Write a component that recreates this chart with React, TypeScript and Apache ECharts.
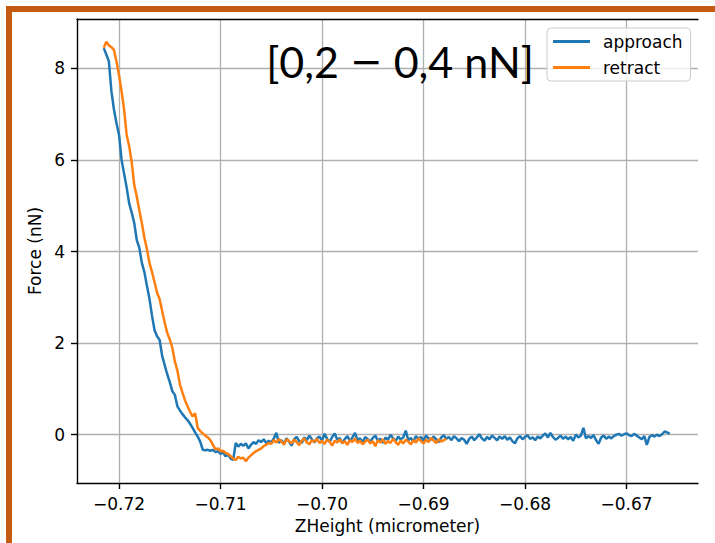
import React, { useEffect, useRef } from "react";
import * as echarts from "echarts";

// Z sampling grid (micrometer)
const Z_START = -0.7215;
const Z_STEP = 0.00025;

// Force (nN), one value per Z sample
const approachForce = [
  8.44, 8.3, 8.15, 7.5, 7.1, 6.8, 6.55, 6.0, 5.7, 5.4,
  5.05, 4.85, 4.62, 4.25, 4.08, 3.75, 3.55, 3.25, 2.97, 2.6,
  2.28, 2.15, 2.07, 1.72, 1.52, 1.32, 1.15, 0.95, 0.87, 0.62,
  0.53, 0.45, 0.38, 0.32, 0.24, 0.15, 0.05, -0.04, -0.15, -0.33,
  -0.34, -0.33, -0.35, -0.33, -0.38, -0.36, -0.42, -0.38, -0.47, -0.44,
  -0.52, -0.55, -0.18, -0.26, -0.2, -0.24, -0.19, -0.3, -0.22, -0.16,
  -0.2, -0.12, -0.16, -0.1, -0.18, -0.13, -0.17, -0.08, 0.04, -0.18,
  -0.12, -0.2, -0.08, -0.15, -0.24, -0.1, -0.05, -0.14, -0.18, -0.06,
  -0.12, -0.02, -0.1, -0.17, -0.08, -0.04, -0.13, 0.02, -0.09, -0.16,
  -0.05, 0.03, -0.11, -0.07, -0.19, -0.09, -0.03, -0.14, -0.06, 0.04,
  -0.12, -0.08, -0.17, -0.05, -0.1, -0.15, -0.07, -0.02, -0.13, -0.09,
  -0.18, -0.06, -0.11, 0.0, -0.08, -0.14, -0.04, -0.1, -0.06, 0.09,
  -0.12, -0.07, -0.15, -0.03, -0.09, -0.05, -0.13, -0.02, -0.08, -0.11,
  -0.04, -0.1, -0.16, -0.06, -0.01, -0.09, -0.05, -0.12, -0.03, -0.08,
  -0.14, -0.07, -0.11, -0.2, -0.09, -0.04, -0.12, -0.06, 0.01, -0.08,
  -0.13, -0.05, -0.1, -0.02, -0.07, -0.12, -0.04, -0.09, -0.03, -0.11,
  -0.06, -0.14, -0.19, -0.08, -0.03, -0.1, -0.05, -0.01, -0.09, -0.06,
  -0.12, -0.04, -0.08, -0.02, 0.03, -0.06, 0.04, -0.05, -0.11, -0.07,
  -0.02, -0.09, -0.04, -0.1, -0.05, -0.13, 0.0, -0.06, -0.02, 0.15,
  -0.08, -0.03, -0.07, -0.01, -0.12, -0.2, -0.06, -0.02, -0.09, -0.04,
  -0.08, -0.03, 0.0, 0.02, -0.02, 0.01, 0.03, -0.01, -0.03, 0.02,
  -0.02, -0.06, -0.1, -0.03, -0.22, -0.05, -0.01, -0.04, 0.0, -0.03,
  0.01, 0.07, 0.05, 0.02,
];

const retractForce = [
  8.45, 8.58, 8.5, 8.46, 8.4, 8.15, 7.85, 7.5, 7.1, 6.55,
  6.3, 5.95, 5.45, 5.2, 4.9, 4.62, 4.3, 4.05, 3.75, 3.55,
  3.33, 3.1, 2.96, 2.7, 2.45, 2.22, 2.08, 1.9, 1.6, 1.4,
  1.1, 0.92, 0.75, 0.62, 0.5, 0.4, 0.47, 0.15, 0.08, 0.03,
  -0.02, -0.06, -0.12, -0.22, -0.32, -0.3, -0.36, -0.35, -0.4, -0.42,
  -0.47, -0.52, -0.55, -0.48, -0.52, -0.5, -0.58, -0.5, -0.45, -0.4,
  -0.36, -0.33, -0.3, -0.25, -0.22, -0.18, -0.2, -0.12, -0.17, -0.09,
  -0.15, -0.22, -0.1, -0.14, -0.19, -0.11, -0.16, -0.23, -0.13, -0.08,
  -0.17, -0.21, -0.12, -0.16, -0.09, -0.18, -0.14, -0.2, -0.11, -0.15,
  -0.24, -0.13, -0.17, -0.1, -0.19, -0.14, -0.22, -0.12, -0.16, -0.08,
  -0.18, -0.13, -0.21, -0.15, -0.11, -0.19, -0.14, -0.25, -0.12, -0.17,
  -0.1, -0.2, -0.14, -0.18, -0.09, -0.16, -0.22, -0.13, -0.19, -0.11,
  -0.15, -0.21, -0.12, -0.17, -0.08, -0.14, -0.19, -0.11, -0.16, -0.07,
  -0.13, -0.18, -0.1, -0.15, -0.12, -0.09,
];

const xTicks = [-0.72, -0.71, -0.7, -0.69, -0.68, -0.67];
const yTicks = [0, 2, 4, 6, 8];
const X_MIN = -0.72414;
const X_MAX = -0.66296;
const Y_MIN = -1.054;
const Y_MAX = 9.076;

const seriesNames = ["approach", "retract"];
const seriesColors = ["#1f77b4", "#ff7f0e"];

const toPairs = (arr: number[]) =>
  arr.map((f, i) => [Number((Z_START + i * Z_STEP).toFixed(5)), f]);

const FONT = "DejaVu Sans";

export default function App() {
  const ref = useRef<HTMLDivElement>(null);
  useEffect(() => {
    if (!ref.current) return;
    const chart = echarts.init(ref.current, null, { renderer: "svg" });
    const axisText = { fontFamily: FONT, fontSize: 17, color: "#000" };
    chart.setOption({
      animation: false,
      backgroundColor: "#ffffff",
      grid: { left: 77, top: 19, right: 17, bottom: 60, containLabel: false, outerBoundsMode: "none" },
      xAxis: [
        {
          type: "value",
          min: X_MIN,
          max: X_MAX,
          name: "ZHeight (micrometer)",
          nameLocation: "middle",
          nameGap: 34,
          nameTextStyle: axisText,
          axisLine: { show: true, onZero: false, lineStyle: { color: "#000", width: 1.4 } },
          axisTick: { show: true, length: 6, customValues: xTicks, lineStyle: { color: "#000", width: 1.4 } },
          axisLabel: {
            ...axisText,
            margin: 12,
            customValues: xTicks,
            formatter: (v: number) => (v < 0 ? "\u2212" : "") + Math.abs(v).toFixed(2),
          },
          splitLine: { show: true, customValues: xTicks, lineStyle: { color: "#b0b0b0", width: 1.3 } },
        },
        {
          type: "value",
          position: "top",
          min: X_MIN,
          max: X_MAX,
          axisLine: { show: true, onZero: false, lineStyle: { color: "#000", width: 1.4 } },
          axisTick: { show: false },
          axisLabel: { show: false },
          splitLine: { show: false },
        },
      ],
      yAxis: {
        type: "value",
        min: Y_MIN,
        max: Y_MAX,
        name: "Force (nN)",
        nameLocation: "middle",
        nameGap: 32,
        nameTextStyle: axisText,
        axisLine: { show: true, onZero: false, lineStyle: { color: "#000", width: 1.4 } },
        axisTick: { show: true, length: 6, customValues: yTicks, lineStyle: { color: "#000", width: 1.4 } },
        axisLabel: { ...axisText, margin: 12, customValues: yTicks, formatter: (v: number) => String(v) },
        splitLine: { show: true, customValues: yTicks, lineStyle: { color: "#b0b0b0", width: 1.3 } },
      },
      legend: {
        orient: "vertical",
        left: 547,
        top: 28,
        data: seriesNames.map((n) => ({ name: n, icon: "rect" })),
        itemWidth: 37,
        itemHeight: 3,
        itemGap: 9,
        padding: [5, 8, 5, 6],
        backgroundColor: "rgba(255,255,255,0.8)",
        borderColor: "#cccccc",
        borderWidth: 1,
        borderRadius: 4,
        textStyle: { fontFamily: FONT, fontSize: 17, color: "#000", padding: [0, 0, 0, 8] },
      },
      series: [
        {
          name: seriesNames[0],
          type: "line",
          data: toPairs(approachForce),
          showSymbol: false,
          symbol: "none",
          color: seriesColors[0],
          lineStyle: { width: 2.5, color: seriesColors[0] },
        },
        {
          name: seriesNames[1],
          type: "line",
          data: toPairs(retractForce),
          showSymbol: false,
          symbol: "none",
          color: seriesColors[1],
          lineStyle: { width: 2.5, color: seriesColors[1] },
        },
      ],
      graphic: [
        { type: "rect", shape: { x: 6, y: 6, width: 6, height: 537 }, style: { fill: "#C55A11" }, z: 100 },
        { type: "rect", shape: { x: 6, y: 6, width: 709, height: 6 }, style: { fill: "#C55A11" }, z: 100 },
        {
          type: "text",
          x: 400,
          y: 61,
          z: 100,
          style: {
            text: "{a|[0,2 }{d|\u2212}{a| 0,4 nN]}",
            fontFamily: "Lato",
            fontSize: 43,
            fill: "#000",
            align: "center",
            verticalAlign: "middle",
            rich: {
              a: { fontFamily: "Lato", fontSize: 43, fill: "#000", color: "#000", verticalAlign: "middle" },
              d: { fontFamily: "DejaVu Sans", fontSize: 39, fill: "#000", color: "#000", verticalAlign: "middle" },
            },
          },
        },
      ],
    });
    return () => chart.dispose();
  }, []);
  return (
    <div
      ref={ref}
      style={{ position: "fixed", left: 0, top: 0, width: 715, height: 543, background: "#fff" }}
    />
  );
}
